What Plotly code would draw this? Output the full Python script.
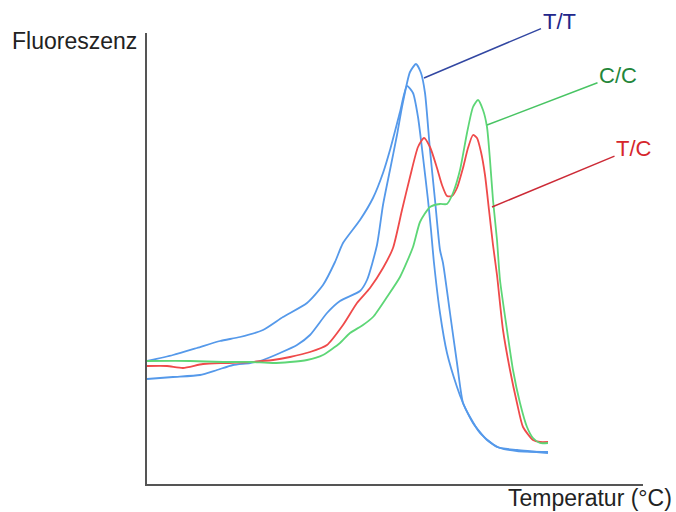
import plotly.graph_objects as go

# Melting-curve data (arbitrary units)
tt1_x = [0, 26, 50, 73, 93, 116, 136, 160, 176, 188, 196, 213, 226, 236, 243, 253, 260, 266, 271, 276, 281, 284, 287, 293, 300, 310, 316, 326, 340, 353, 370, 401]
tt1_y = [123, 129, 136, 143, 147, 154, 167, 181, 199, 222, 241, 264, 286, 311, 334, 372, 398, 391, 367, 327, 284, 254, 221, 171, 131, 97, 81, 61, 44, 36, 33, 32]

tt2_x = [0, 26, 53, 70, 86, 103, 116, 133, 150, 163, 180, 193, 213, 220, 230, 236, 243, 250, 255, 263, 269, 274, 278, 283, 288, 293, 296, 303, 310, 316, 323, 333, 350, 370, 401]
tt2_y = [105, 107, 109, 114, 119, 121, 124, 131, 139, 149, 171, 183, 193, 204, 239, 279, 314, 349, 377, 412, 420, 411, 391, 334, 284, 234, 221, 171, 121, 81, 67, 51, 37, 34, 31]

cc_x = [0, 43, 76, 103, 126, 143, 160, 176, 193, 203, 216, 226, 240, 253, 266, 273, 283, 293, 300, 306, 313, 320, 326, 331, 336, 340, 343, 346, 350, 353, 360, 366, 373, 380, 386, 393, 401]
cc_y = [123, 123, 122, 122, 121, 122, 124, 129, 141, 151, 159, 167, 187, 207, 237, 262, 277, 280, 280, 291, 314, 351, 377, 384, 374, 357, 324, 284, 244, 204, 154, 114, 81, 57, 46, 41, 41]

tc_x = [0, 20, 36, 56, 80, 103, 126, 143, 163, 180, 196, 210, 223, 236, 246, 255, 263, 271, 277, 283, 290, 295, 300, 305, 310, 316, 321, 326, 330, 334, 338, 342, 346, 350, 356, 363, 370, 376, 386, 393, 401]
tc_y = [118, 118, 116, 120, 121, 122, 124, 127, 132, 139, 159, 181, 196, 216, 236, 274, 307, 337, 346, 337, 316, 299, 288, 288, 296, 316, 336, 349, 346, 332, 309, 274, 239, 209, 154, 114, 81, 57, 44, 42, 42]

# Labels: text, anchor point on curve, text position
labels = ["T/T", "C/C", "T/C"]
label_pt_x = [277, 340, 345]
label_pt_y = [406, 359, 277]
label_txt_x = [412, 471, 487]
label_txt_y = [463, 409, 336]
label_colors = ["#22268a", "#23863a", "#d6262c"]
leader_colors = ["#3247a2", "#48c463", "#cc2a36"]

BLUE = "#5599ea"
GREEN = "#5dd676"
RED = "#ef4a4a"

fig = go.Figure()
for xs, ys, col in [(tt1_x, tt1_y, BLUE), (tt2_x, tt2_y, BLUE), (tc_x, tc_y, RED), (cc_x, cc_y, GREEN)]:
    fig.add_trace(go.Scatter(x=xs, y=ys, mode="lines",
                             line=dict(color=col, width=1.8, shape="spline", smoothing=0.6),
                             hoverinfo="skip", showlegend=False))

for i, t in enumerate(labels):
    fig.add_annotation(x=label_pt_x[i], y=label_pt_y[i], xref="x", yref="y",
                       ax=label_txt_x[i], ay=label_txt_y[i], axref="x", ayref="y",
                       text=t, showarrow=True, arrowhead=0, arrowwidth=1.5,
                       arrowcolor=leader_colors[i], standoff=0,
                       font=dict(family="Liberation Sans, Arial", size=22, color=label_colors[i]))

fig.add_annotation(text="Fluoreszenz", xref="paper", yref="paper", x=-0.016, y=0.982,
                   xanchor="right", yanchor="middle", showarrow=False,
                   font=dict(family="Liberation Sans, Arial", size=23, color="#222222"))
fig.add_annotation(text="Temperatur (°C)", xref="paper", yref="paper", x=1.062, y=-0.03,
                   xanchor="right", yanchor="middle", showarrow=False,
                   font=dict(family="Liberation Sans, Arial", size=23, color="#222222"))

axis_common = dict(showgrid=False, zeroline=False, showticklabels=False, ticks="",
                   showline=True, linecolor="#555555", linewidth=2, fixedrange=True)
fig.update_layout(
    width=676, height=512,
    margin=dict(l=147, r=33, t=33, b=28),
    paper_bgcolor="white", plot_bgcolor="white",
    xaxis=dict(range=[0, 496], **axis_common),
    yaxis=dict(range=[0, 451], **axis_common),
    showlegend=False,
)
fig.write_html("out.html")
